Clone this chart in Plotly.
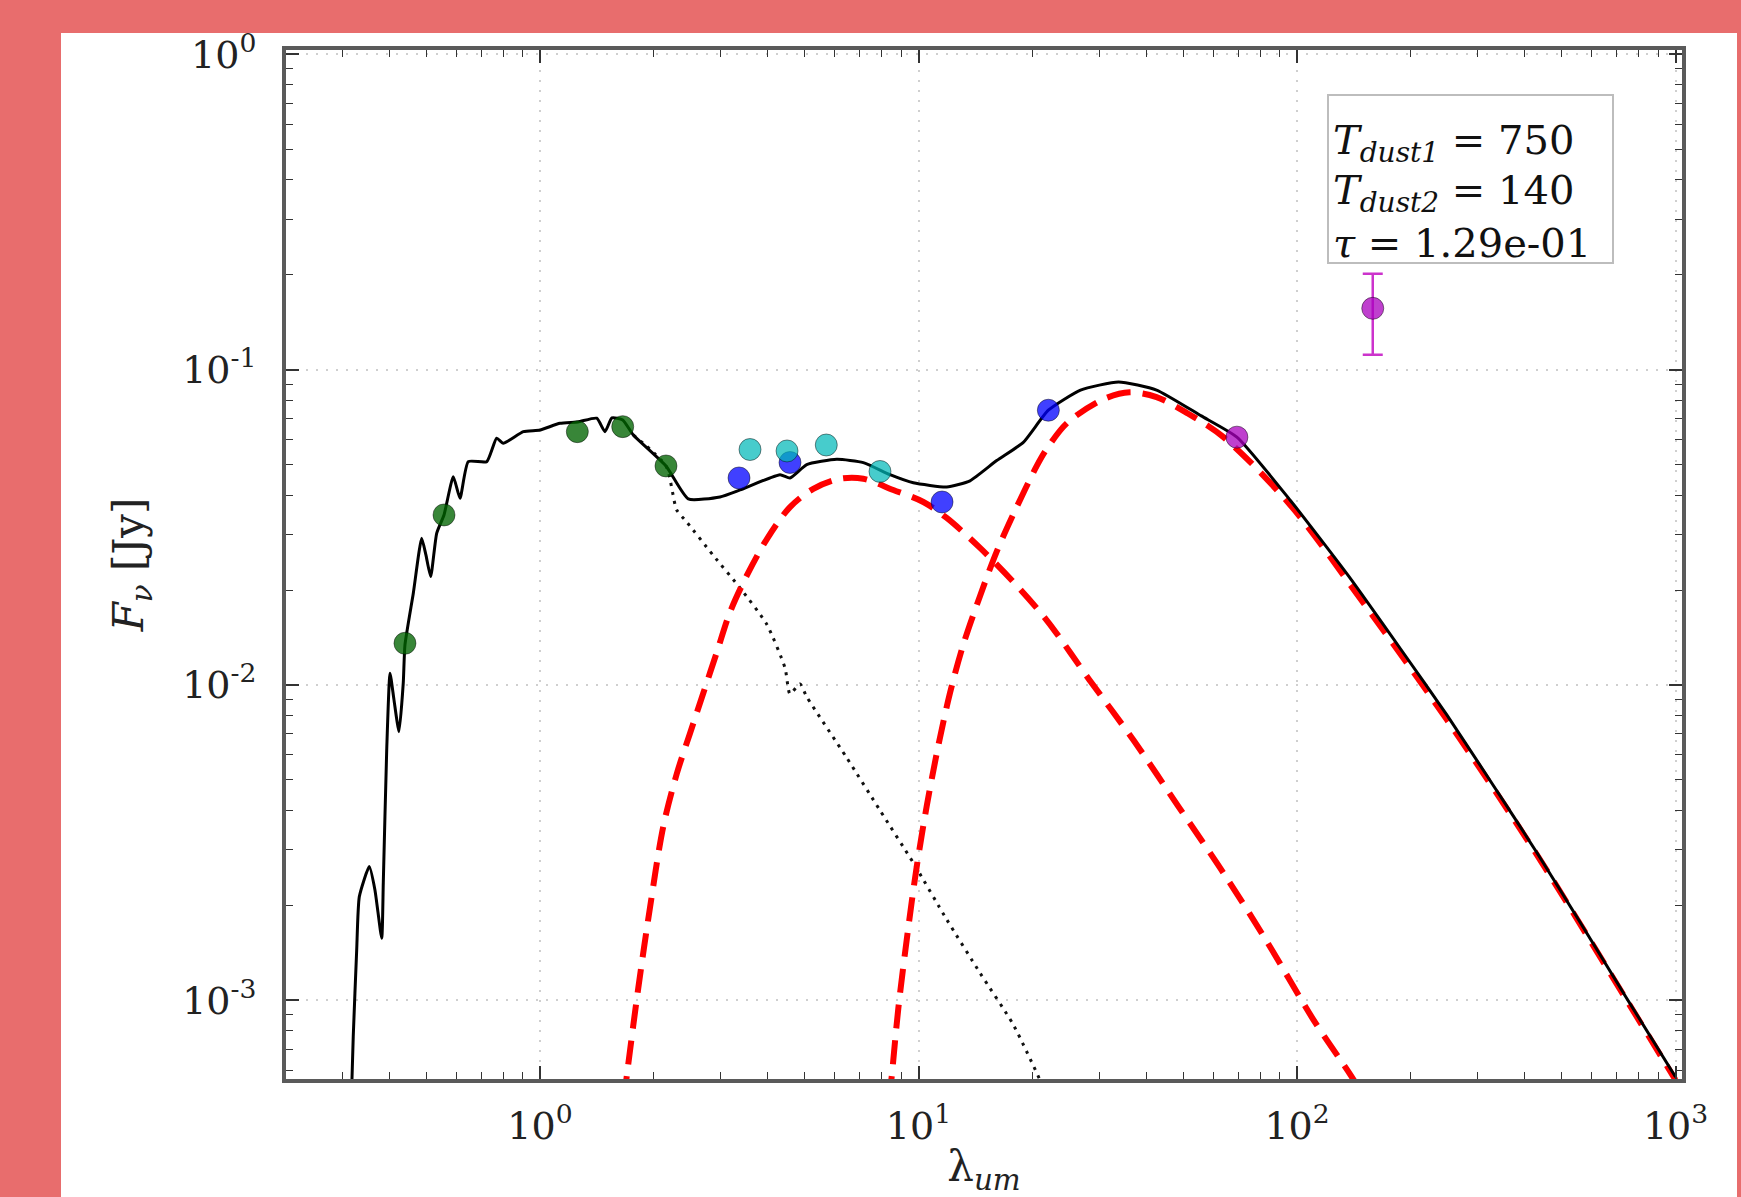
import math
import plotly.graph_objects as go

# ---------------- data (wavelength in micron, flux in Jy) ----------------
# total model (photosphere + two dust components)
total_wl = [0.3180, 0.3211, 0.3279, 0.3332, 0.3540, 0.3664, 0.3818, 0.3855, 0.3936, 0.4016,
            0.4114, 0.4241, 0.4353, 0.4398, 0.4627, 0.4869, 0.4996, 0.5143, 0.5334, 0.5577,
            0.5902, 0.6147, 0.6465, 0.7233, 0.7683, 0.7998, 0.9035, 1.000, 1.129, 1.260,
            1.412, 1.485, 1.549, 1.654, 1.764, 2.152, 2.465, 2.989, 3.377, 4.306,
            4.576, 5.066, 6.081, 7.148, 8.408, 9.689, 11.87, 13.68, 16.09, 18.92,
            22.03, 26.79, 33.77, 42.55, 55.84, 69.37, 96.18, 136.9, 189.8, 249.0,
            326.8, 429.1, 563.2, 739.2, 1000.0]
total_flux = [5.20e-4, 7.67e-4, 1.444e-3, 2.132e-3, 2.655e-3, 2.239e-3, 1.573e-3, 2.357e-3, 6.22e-3, 0.01090,
              8.97e-3, 7.11e-3, 0.01015, 0.01340, 0.01954, 0.02920, 0.02585, 0.02207, 0.03028, 0.03461,
              0.04577, 0.03910, 0.05108, 0.05108, 0.06060, 0.05843, 0.06358, 0.06437, 0.06761, 0.06828,
              0.07014, 0.06358, 0.07029, 0.06928, 0.06207, 0.04950, 0.03890, 0.03947, 0.04154, 0.04645,
              0.04535, 0.05000, 0.05194, 0.05074, 0.04645, 0.04377, 0.04248, 0.04442, 0.05148, 0.05882,
              0.07436, 0.08617, 0.09141, 0.08617, 0.07134, 0.06109, 0.03840, 0.02214, 0.01277, 8.02e-3,
              4.89e-3, 2.955e-3, 1.747e-3, 1.025e-3, 5.71e-4]

# stellar photosphere beyond the near-IR (dotted)
star_wl = [1.764, 2.152, 2.297, 2.441, 2.871, 3.377, 3.972, 4.440, 4.576, 4.863,
           5.066, 6.461, 7.911, 9.689, 11.87, 14.54, 17.80, 20.94]
star_flux = [0.06207, 0.04950, 0.03590, 0.03289, 0.02573, 0.02031, 0.01558, 0.01132, 9.37e-3, 0.01008,
             9.17e-3, 5.88e-3, 4.003e-3, 2.729e-3, 1.805e-3, 1.221e-3, 8.37e-4, 5.59e-4]

# warm dust component (T = 750 K)
warm_wl = [1.667, 1.695, 1.818, 1.953, 2.117, 2.297, 2.490, 2.701, 2.930, 3.177,
           3.517, 3.972, 4.576, 5.273, 6.203, 7.148, 8.579, 10.30, 11.87, 14.54,
           17.80, 21.82, 28.29, 37.12, 48.72, 63.94, 83.92, 110.2, 138.8, 152.2]
warm_flux = [4.83e-4, 5.74e-4, 1.092e-3, 1.972e-3, 3.559e-3, 5.22e-3, 7.02e-3, 9.43e-3, 0.01267, 0.01702,
             0.02221, 0.02897, 0.03666, 0.04188, 0.04508, 0.04508, 0.04154, 0.03805, 0.03386, 0.02720,
             0.02123, 0.01604, 0.01038, 6.64e-3, 4.10e-3, 2.533e-3, 1.512e-3, 8.72e-4, 5.77e-4, 4.83e-4]

# cold dust component (T = 140 K)
cold_wl = [8.358, 8.496, 8.844, 9.399, 9.890, 10.51, 11.28, 12.11, 13.13, 14.54,
           16.09, 18.17, 20.53, 21.73, 24.70, 30.69, 36.12, 42.55, 51.46, 63.94,
           96.18, 144.6, 249.0, 429.1, 739.2, 1000.0]
cold_flux = [4.83e-4, 5.74e-4, 9.43e-4, 1.702e-3, 2.649e-3, 4.125e-3, 6.42e-3, 9.43e-3, 0.01343, 0.01916,
             0.02649, 0.03666, 0.04950, 0.05564, 0.06777, 0.08044, 0.08472, 0.08187, 0.07260, 0.06109,
             0.03710, 0.01930, 7.75e-3, 2.908e-3, 1.010e-3, 5.59e-4]

# photometry
green_wl = [0.4398, 0.5577, 1.255, 1.654, 2.152]
green_flux = [0.01356, 0.03461, 0.06358, 0.06596, 0.04950]
blue_wl = [3.356, 4.576, 11.54, 22.03]
blue_flux = [0.04535, 0.05077, 0.03805, 0.07436]
cyan_wl = [3.588, 4.494, 5.706, 7.911]
cyan_flux = [0.05582, 0.05523, 0.05769, 0.04755]
mag_wl = [69.37]
mag_flux = [0.06109]
mag_err_wl = [158.5]
mag_err_flux = [0.1565]
mag_err = [0.045]

# fit parameters shown in the box
fit_labels = ["<i>T</i><sub><i>dust1</i></sub> = 750",
              "<i>T</i><sub><i>dust2</i></sub> = 140",
              "<i>τ</i> = 1.29e-01"]

# axis limits and ticks
x_lim = [0.2133, 1040.0]
y_lim = [5.63e-4, 1.032]
x_tickvals = [1, 10, 100, 1000]
x_ticktext = ["10<sup>0</sup>", "10<sup>1</sup>", "10<sup>2</sup>", "10<sup>3</sup>"]
y_tickvals = [1e-3, 1e-2, 1e-1, 1]
y_ticktext = ["10<sup>-3</sup>", "10<sup>-2</sup>", "10<sup>-1</sup>", "10<sup>0</sup>"]

# ---------------- figure ----------------
W, H = 1741, 1197
L, R, T, B = 286, 1682, 50, 1079


def px(x):
    return (x - L) / (R - L)


def py(y):
    return (B - y) / (B - T)


minor_x = [m * 10 ** e for e in range(-1, 3) for m in range(2, 10)]
minor_y = [m * 10 ** e for e in range(-4, 0) for m in range(2, 10)]

fig = go.Figure()

fig.add_trace(go.Scatter(x=star_wl, y=star_flux, mode="lines",
                         line=dict(color="#111111", width=3, dash="3px,6px",
                                   shape="spline", smoothing=0.6)))
fig.add_trace(go.Scatter(x=warm_wl, y=warm_flux, mode="lines",
                         line=dict(color="#ff0000", width=6, dash="24px,12px",
                                   shape="spline", smoothing=0.9)))
fig.add_trace(go.Scatter(x=cold_wl, y=cold_flux, mode="lines",
                         line=dict(color="#ff0000", width=6, dash="24px,12px",
                                   shape="spline", smoothing=0.9)))
fig.add_trace(go.Scatter(x=total_wl, y=total_flux, mode="lines",
                         line=dict(color="#000000", width=3, shape="spline", smoothing=0.5)))

mk_line = dict(color="rgba(0,0,0,0.45)", width=1)
fig.add_trace(go.Scatter(x=green_wl, y=green_flux, mode="markers",
                         marker=dict(size=22, color="rgba(0,100,0,0.78)", line=mk_line)))
fig.add_trace(go.Scatter(x=blue_wl, y=blue_flux, mode="markers",
                         marker=dict(size=22, color="rgba(0,0,255,0.75)", line=mk_line)))
fig.add_trace(go.Scatter(x=cyan_wl, y=cyan_flux, mode="markers",
                         marker=dict(size=22, color="rgba(0,185,185,0.72)", line=mk_line)))
fig.add_trace(go.Scatter(x=mag_wl, y=mag_flux, mode="markers",
                         marker=dict(size=22, color="rgba(170,0,190,0.75)", line=mk_line)))
fig.add_trace(go.Scatter(x=mag_err_wl, y=mag_err_flux, mode="markers",
                         error_y=dict(type="data", array=mag_err, color="#cc33cc",
                                      thickness=2.5, width=10),
                         marker=dict(size=22, color="rgba(170,0,190,0.75)", line=mk_line)))

tick_font = dict(family="DejaVu Serif", size=38, color="#222222")
axis_common = dict(
    type="log", showline=True, linecolor="#5a5a5a", linewidth=4, mirror="allticks",
    ticks="inside", ticklen=13, tickwidth=1.5, tickcolor="#333333",
    showgrid=True, gridcolor="#cfcfcf", gridwidth=1.5, griddash="2px,8px",
    zeroline=False, tickfont=tick_font, tickmode="array", automargin=False,
)

fig.update_xaxes(
    **axis_common,
    range=[math.log10(x_lim[0]), math.log10(x_lim[1])],
    tickvals=x_tickvals, ticktext=x_ticktext, ticklabelstandoff=10,
    minor=dict(ticks="inside", ticklen=7, tickwidth=1.2, tickcolor="#333333",
               tickmode="array", tickvals=minor_x, showgrid=False),
    title=dict(text="λ<sub><i>um</i></sub>", font=dict(family="DejaVu Serif", size=42, color="#222222"),
               standoff=8),
)
fig.update_yaxes(
    **axis_common,
    range=[math.log10(y_lim[0]), math.log10(y_lim[1])],
    tickvals=y_tickvals, ticktext=y_ticktext, ticklabelstandoff=18,
    minor=dict(ticks="inside", ticklen=7, tickwidth=1.2, tickcolor="#333333",
               tickmode="array", tickvals=minor_y, showgrid=False),
    title=dict(text="<i>F</i><sub><i>ν</i></sub> [Jy]", font=dict(family="DejaVu Serif", size=42, color="#222222"),
               standoff=26),
)

shapes = [
    # white page panel on the salmon background
    dict(type="rect", xref="paper", yref="paper", layer="below",
         x0=px(61), x1=px(1737), y0=py(1260), y1=py(33),
         fillcolor="white", line=dict(width=0)),
    # parameter box
    dict(type="rect", xref="paper", yref="paper", layer="above",
         x0=px(1328), x1=px(1613), y0=py(263), y1=py(95),
         fillcolor="white", line=dict(color="#bdbdbd", width=2)),
]

annotations = []
for i, txt in enumerate(fit_labels):
    annotations.append(dict(
        text=txt, xref="paper", yref="paper", x=px(1331), y=py(143 + 50 * i),
        xanchor="left", yanchor="middle", showarrow=False, align="left",
        font=dict(family="DejaVu Serif", size=40, color="#111111"),
    ))

fig.update_layout(
    width=W, height=H,
    margin=dict(l=L, r=W - R, t=T, b=H - B, pad=0, autoexpand=False),
    paper_bgcolor="#e86d6d", plot_bgcolor="white",
    showlegend=False, shapes=shapes, annotations=annotations,
)

# remove the browser's default 8px body margin so the figure fills the window exactly
fig.write_html("out.html", config={"displayModeBar": False},
               post_script="document.body.style.margin='0';")
